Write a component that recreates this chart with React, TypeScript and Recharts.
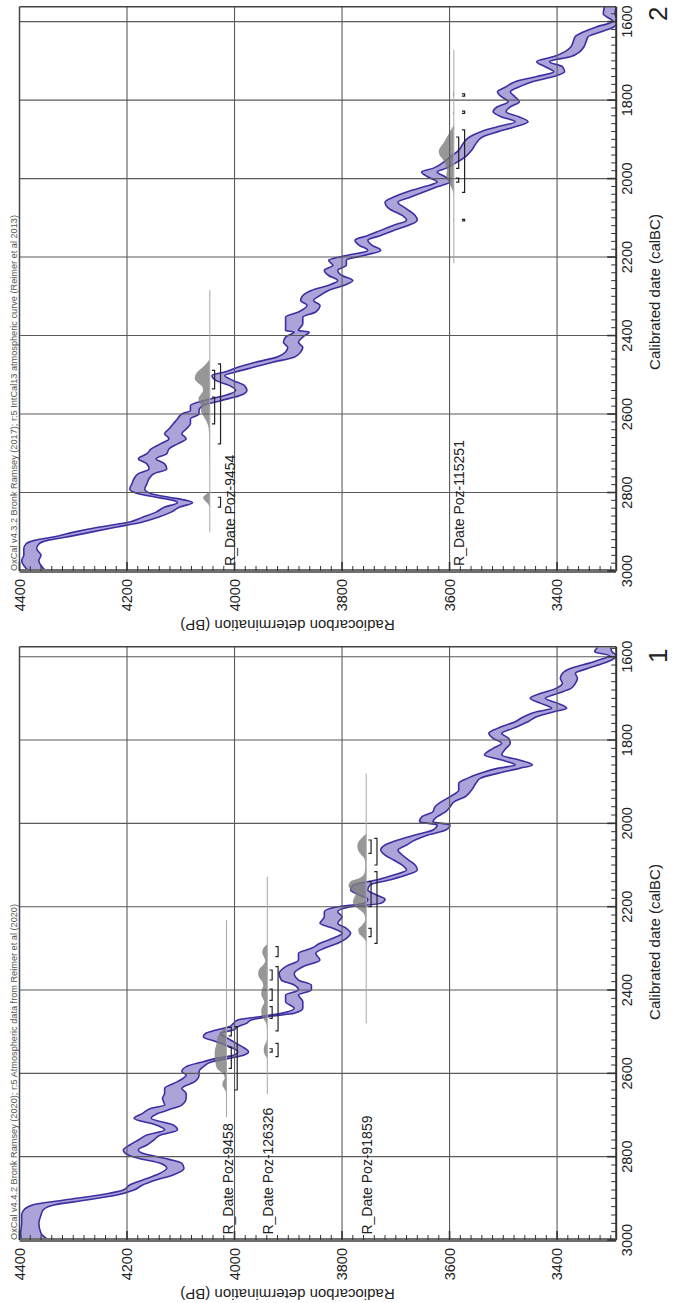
import React from 'react';
import {
  ComposedChart,
  Area,
  Line,
  Scatter,
  XAxis,
  YAxis,
  ReferenceLine,
} from 'recharts';

const FONT = '"Liberation Sans", Arial, Helvetica, sans-serif';

// axis values
const bpRange = [3290, 4400];
const bpMajor = [3400, 3600, 3800, 4000, 4200, 4400];
const calMajor = [1600, 1800, 2000, 2200, 2400, 2600, 2800, 3000];

// calibration curve panel 1 (IntCal20): [calBC, upper BP, lower BP]
const curve1: [number, number, number][] = [
  [1578, 3325, 3300], [1588, 3330, 3298], [1598, 3302, 3289], [1606, 3318, 3296],
  [1616, 3342, 3314], [1628, 3374, 3342], [1640, 3390, 3366], [1652, 3394, 3362],
  [1664, 3390, 3366], [1676, 3402, 3374], [1688, 3430, 3398], [1700, 3450, 3422],
  [1712, 3430, 3398], [1724, 3410, 3382], [1732, 3438, 3406], [1744, 3462, 3438],
  [1756, 3478, 3454], [1772, 3511, 3482], [1784, 3527, 3503], [1796, 3519, 3490],
  [1808, 3503, 3487], [1820, 3519, 3495], [1836, 3535, 3503], [1848, 3503, 3470],
  [1860, 3478, 3446], [1868, 3511, 3470], [1880, 3543, 3511], [1892, 3567, 3543],
  [1904, 3583, 3551], [1920, 3583, 3559], [1936, 3599, 3571], [1948, 3615, 3591],
  [1960, 3627, 3599], [1972, 3631, 3607], [1984, 3651, 3623], [1996, 3656, 3631],
  [2004, 3623, 3599], [2016, 3631, 3607], [2028, 3664, 3640], [2040, 3696, 3664],
  [2052, 3720, 3680], [2064, 3728, 3696], [2076, 3720, 3688], [2088, 3704, 3676],
  [2100, 3688, 3664], [2112, 3680, 3660], [2124, 3704, 3680], [2136, 3736, 3712],
  [2148, 3780, 3748], [2160, 3784, 3752], [2172, 3768, 3736], [2182, 3752, 3720],
  [2192, 3760, 3728], [2200, 3808, 3784], [2212, 3833, 3808], [2224, 3833, 3800],
  [2240, 3841, 3808], [2252, 3817, 3792], [2264, 3800, 3784], [2276, 3817, 3792],
  [2288, 3841, 3808], [2300, 3857, 3833], [2312, 3881, 3849], [2328, 3881, 3841],
  [2344, 3905, 3873], [2360, 3917, 3889], [2376, 3913, 3881], [2388, 3889, 3857],
  [2400, 3881, 3857], [2412, 3905, 3881], [2428, 3905, 3873], [2444, 3889, 3873],
  [2456, 3913, 3889], [2464, 3953, 3937], [2472, 3994, 3969], [2480, 4002, 3978],
  [2488, 4010, 3994], [2496, 4034, 4002], [2504, 4054, 4026], [2512, 4058, 4018],
  [2524, 4034, 4002], [2536, 4010, 3986], [2548, 3994, 3974], [2556, 4000, 3982],
  [2564, 4034, 4010], [2572, 4058, 4042], [2584, 4090, 4058], [2596, 4098, 4066],
  [2604, 4090, 4066], [2620, 4106, 4074], [2636, 4130, 4098], [2648, 4130, 4090],
  [2660, 4134, 4090], [2676, 4130, 4098], [2684, 4155, 4114], [2696, 4171, 4142],
  [2708, 4187, 4155], [2724, 4146, 4114], [2736, 4130, 4106], [2748, 4163, 4138],
  [2760, 4179, 4150], [2772, 4195, 4163], [2784, 4207, 4179], [2792, 4203, 4171],
  [2804, 4179, 4130], [2816, 4138, 4098], [2828, 4126, 4094], [2844, 4146, 4114],
  [2856, 4171, 4146], [2868, 4195, 4171], [2880, 4207, 4187], [2892, 4251, 4219],
  [2904, 4316, 4275], [2916, 4376, 4336], [2928, 4392, 4356], [2940, 4396, 4360],
  [2960, 4396, 4364], [2984, 4398, 4360], [3000, 4396, 4346],
];

// calibration curve panel 2 (IntCal13)
const curve2: [number, number, number][] = [
  [1562, 3312, 3290], [1580, 3314, 3292], [1600, 3296, 3287], [1613, 3326, 3294],
  [1626, 3350, 3318], [1638, 3366, 3342], [1651, 3370, 3346], [1664, 3374, 3350],
  [1677, 3386, 3358], [1689, 3406, 3374], [1702, 3438, 3414], [1715, 3422, 3390],
  [1728, 3406, 3386], [1740, 3438, 3406], [1753, 3478, 3446], [1766, 3495, 3470],
  [1779, 3511, 3487], [1792, 3503, 3478], [1804, 3491, 3470], [1817, 3511, 3487],
  [1830, 3519, 3495], [1843, 3503, 3470], [1855, 3478, 3454], [1868, 3511, 3478],
  [1881, 3543, 3511], [1894, 3563, 3539], [1911, 3575, 3551], [1928, 3583, 3559],
  [1945, 3599, 3571], [1962, 3615, 3591], [1974, 3631, 3607], [1983, 3652, 3623],
  [1996, 3640, 3607], [2009, 3623, 3599], [2021, 3648, 3623], [2034, 3680, 3648],
  [2047, 3704, 3672], [2060, 3720, 3696], [2077, 3712, 3680], [2094, 3688, 3664],
  [2106, 3680, 3660], [2119, 3704, 3676], [2132, 3728, 3704], [2145, 3752, 3728],
  [2157, 3776, 3752], [2170, 3768, 3744], [2183, 3752, 3728], [2196, 3792, 3760],
  [2208, 3825, 3792], [2221, 3817, 3792], [2234, 3833, 3808], [2247, 3825, 3800],
  [2260, 3808, 3780], [2272, 3825, 3796], [2285, 3857, 3825], [2298, 3873, 3841],
  [2311, 3877, 3853], [2323, 3865, 3841], [2340, 3881, 3849], [2353, 3905, 3873],
  [2370, 3905, 3873], [2387, 3905, 3881], [2391, 3889, 3861], [2404, 3905, 3873],
  [2417, 3909, 3881], [2430, 3901, 3873], [2442, 3905, 3877], [2455, 3921, 3889],
  [2468, 3961, 3929], [2481, 3994, 3965], [2493, 4018, 3998], [2502, 4042, 4018],
  [2515, 4034, 4002], [2527, 4010, 3982], [2540, 3998, 3977], [2553, 4018, 3990],
  [2566, 4058, 4026], [2578, 4082, 4058], [2591, 4082, 4066], [2600, 4098, 4066],
  [2612, 4106, 4082], [2625, 4114, 4082], [2638, 4122, 4090], [2650, 4130, 4098],
  [2663, 4122, 4090], [2676, 4138, 4106], [2689, 4155, 4122], [2701, 4163, 4126],
  [2714, 4179, 4146], [2727, 4163, 4130], [2740, 4159, 4126], [2752, 4179, 4150],
  [2765, 4187, 4159], [2778, 4191, 4163], [2791, 4195, 4167], [2803, 4179, 4155],
  [2812, 4146, 4122], [2820, 4114, 4090], [2826, 4106, 4078], [2837, 4130, 4102],
  [2850, 4146, 4118], [2863, 4171, 4142], [2875, 4195, 4171], [2888, 4251, 4219],
  [2901, 4299, 4267], [2914, 4340, 4315], [2922, 4372, 4348], [2931, 4388, 4364],
  [2943, 4392, 4368], [2960, 4392, 4360], [2973, 4396, 4364], [2986, 4392, 4360],
  [2998, 4384, 4352], [3000, 4382, 4350],
];

// calibrated distributions: [calBC, relative probability]
const dist9458: [number, number][] = [
  [2484, 0], [2492, 0.15], [2500, 0.45], [2510, 0.7], [2520, 0.8], [2530, 0.85], [2540, 0.95],
  [2550, 1], [2560, 1], [2570, 0.95], [2580, 0.9], [2590, 0.75], [2598, 0.4], [2605, 0.2],
  [2612, 0.15], [2620, 0.3], [2628, 0.35], [2636, 0.2], [2645, 0.05], [2655, 0],
];
const dist126326: [number, number][] = [
  [2290, 0], [2300, 0.4], [2310, 0.5], [2320, 0.35], [2330, 0.2], [2340, 0.4], [2350, 0.8],
  [2360, 0.9], [2370, 0.8], [2380, 0.5], [2390, 0.4], [2400, 0.55], [2410, 0.6], [2420, 0.45],
  [2430, 0.3], [2440, 0.5], [2450, 0.6], [2460, 0.55], [2470, 0.35], [2480, 0.1], [2492, 0.04],
  [2512, 0.02], [2525, 0.1], [2535, 0.3], [2545, 0.35], [2555, 0.25], [2565, 0.03], [2575, 0],
];
const dist91859: [number, number][] = [
  [2025, 0], [2035, 0.25], [2045, 0.45], [2055, 0.5], [2065, 0.45], [2075, 0.3], [2085, 0.1],
  [2100, 0.05], [2120, 0.1], [2132, 0.4], [2140, 0.9], [2150, 1], [2160, 0.85], [2170, 0.6],
  [2180, 0.7], [2190, 0.75], [2200, 0.6], [2210, 0.3], [2220, 0.1], [2232, 0.05], [2245, 0.25],
  [2255, 0.45], [2265, 0.4], [2275, 0.15], [2285, 0.02], [2295, 0],
];
const dist9454: [number, number][] = [
  [2460, 0], [2470, 0.2], [2480, 0.45], [2490, 0.75], [2500, 0.95], [2510, 1], [2520, 0.8],
  [2530, 0.5], [2540, 0.45], [2550, 0.6], [2560, 0.75], [2570, 0.7], [2580, 0.55], [2590, 0.6],
  [2600, 0.5], [2610, 0.35], [2620, 0.2], [2635, 0.08], [2660, 0.04], [2700, 0.02], [2740, 0],
  [2795, 0], [2803, 0.2], [2812, 0.45], [2820, 0.35], [2830, 0.1], [2840, 0],
];
const dist115251: [number, number][] = [
  [1775, 0], [1785, 0.07], [1795, 0], [1825, 0], [1832, 0.07], [1840, 0], [1860, 0],
  [1870, 0.1], [1880, 0.25], [1890, 0.4], [1900, 0.55], [1910, 0.7], [1920, 0.9], [1930, 1],
  [1940, 0.95], [1950, 0.75], [1960, 0.6], [1970, 0.5], [1980, 0.45], [1990, 0.5], [2000, 0.45],
  [2010, 0.35], [2020, 0.2], [2030, 0.08], [2040, 0.02], [2050, 0], [2095, 0], [2104, 0.04], [2112, 0],
];

type RDate = {
  name: string;
  bp: number;
  labelBP: number;
  span: [number, number];
  peak: number;
  dist: [number, number][];
  r68: [number, number][];
  r95: [number, number][];
};

const dates1: RDate[] = [
  {
    name: 'R_Date Poz-9458', bp: 4015, labelBP: 4013, span: [2232, 2705], peak: 22, dist: dist9458,
    r68: [[2490, 2510], [2537, 2588]], r95: [[2488, 2640]],
  },
  {
    name: 'R_Date Poz-126326', bp: 3939, labelBP: 3938, span: [2128, 2650], peak: 19, dist: dist126326,
    r68: [[2352, 2376], [2398, 2425], [2440, 2468], [2541, 2549]],
    r95: [[2296, 2320], [2344, 2498], [2528, 2560]],
  },
  {
    name: 'R_Date Poz-91859', bp: 3755, labelBP: 3753, span: [1880, 2480], peak: 33, dist: dist91859,
    r68: [[2040, 2072], [2140, 2200], [2252, 2272]], r95: [[2036, 2100], [2116, 2288]],
  },
];

const dates2: RDate[] = [
  {
    name: 'R_Date Poz-9454', bp: 4046, labelBP: 4009, span: [2284, 2901], peak: 28, dist: dist9454,
    r68: [[2489, 2536], [2557, 2625]], r95: [[2472, 2676], [2812, 2837]],
  },
  {
    name: 'R_Date Poz-115251', bp: 3592, labelBP: 3583, span: [1672, 2216], peak: 28, dist: dist115251,
    r68: [[1894, 1974], [1999, 2009]],
    r95: [[1784, 1790], [1828, 1834], [1876, 2035], [2104, 2108]],
  },
];

const steps = (a: number, b: number, s: number) => {
  const out: number[] = [];
  for (let v = Math.ceil(a / s) * s; v <= b; v += s) out.push(v);
  return out;
};

const XTick = (props: any) => {
  const { x, y, payload } = props;
  const major = payload.value % 200 === 0;
  return (
    <g>
      <line x1={x} x2={x} y1={y} y2={y - (major ? 9 : 5)} stroke="#333" strokeWidth={major ? 1.6 : 1} />
      {major && (
        <text x={x} y={y + 16} textAnchor="middle" fontSize={14.5} fill="#222" fontFamily={FONT}>
          {payload.value}
        </text>
      )}
    </g>
  );
};

const YTick = (props: any) => {
  const { x, y, payload } = props;
  const major = payload.value % 200 === 0;
  return (
    <g>
      <line x1={x} x2={x + (major ? 9 : 5)} y1={y} y2={y} stroke="#333" strokeWidth={major ? 1.6 : 1} />
      {major && (
        <text x={x - 8} y={y} dy="0.36em" textAnchor="end" fontSize={14.5} fill="#222" fontFamily={FONT}>
          {payload.value}
        </text>
      )}
    </g>
  );
};

function bracketPoints(ranges: [number, number][], level: number) {
  const pts: { x: number; y: number | null }[] = [];
  ranges.forEach(([a, b]) => {
    pts.push({ x: a, y: level + 5 }, { x: a, y: level }, { x: b, y: level }, { x: b, y: level + 5 }, { x: b, y: null });
  });
  return pts;
}

function Panel({ curve, dates, xMin, width, axisWidth, rightPad }: {
  curve: [number, number, number][];
  dates: RDate[];
  xMin: number;
  width: number;
  axisWidth: number;
  rightPad: number;
}) {
  const band = curve.map(([x, hi, lo]) => ({ x, v: [lo, hi] }));
  const labels = dates.map((d) => ({ x: 2987, y: d.labelBP, name: d.name }));
  return (
    <ComposedChart width={width} height={675} margin={{ top: 19.5, right: rightPad, bottom: 0, left: 0 }}>
      <XAxis
        type="number"
        dataKey="x"
        domain={[xMin, 3000]}
        reversed
        allowDataOverflow
        ticks={steps(xMin, 3000, 20)}
        interval={0}
        tickSize={0}
        tickMargin={0}
        tickLine={false}
        height={58.8}
        axisLine={{ stroke: '#333', strokeWidth: 2 }}
        tick={<XTick />}
      />
      <YAxis
        type="number"
        domain={bpRange}
        allowDataOverflow
        ticks={steps(bpRange[0], bpRange[1], 20)}
        interval={0}
        tickSize={0}
        tickMargin={0}
        tickLine={false}
        width={axisWidth}
        axisLine={{ stroke: '#6e6e6e', strokeWidth: 4 }}
        tick={<YTick />}
      />
      <Area
        data={band}
        dataKey="v"
        type="monotone"
        fill="#aca4d8"
        fillOpacity={1}
        stroke="#3b2fa3"
        strokeWidth={1.6}
        isAnimationActive={false}
      />
      {dates.map((d) => (
        <Area
          key={d.name + 'dist'}
          data={d.dist.map(([x, p]) => ({ x, v: [d.bp, d.bp + p * d.peak] }))}
          dataKey="v"
          type="monotone"
          fill="#7d7d7d"
          fillOpacity={0.8}
          stroke="none"
          isAnimationActive={false}
        />
      ))}
      {calMajor.filter((v) => v < 3000).map((v) => (
        <ReferenceLine key={'gx' + v} x={v} stroke="#5a5a5a" strokeWidth={1.1} />
      ))}
      {bpMajor.filter((v) => v < 4400).map((v) => (
        <ReferenceLine key={'gy' + v} y={v} stroke="#5a5a5a" strokeWidth={1.1} />
      ))}
      <ReferenceLine y={bpRange[1]} stroke="#444" strokeWidth={1.5} />
      <ReferenceLine x={xMin} stroke="#444" strokeWidth={1.5} />
      {dates.map((d) => (
        <ReferenceLine
          key={d.name + 'span'}
          segment={[{ x: d.span[0], y: d.bp }, { x: d.span[1], y: d.bp }]}
          stroke="#a8a8a8"
          strokeWidth={1}
        />
      ))}
      {dates.map((d) => (
        <Line
          key={d.name + 'r68'}
          data={bracketPoints(d.r68, d.bp - 9)}
          dataKey="y"
          type="linear"
          stroke="#222"
          strokeWidth={1.2}
          dot={false}
          connectNulls={false}
          isAnimationActive={false}
        />
      ))}
      {dates.map((d) => (
        <Line
          key={d.name + 'r95'}
          data={bracketPoints(d.r95, d.bp - 20)}
          dataKey="y"
          type="linear"
          stroke="#222"
          strokeWidth={1.2}
          dot={false}
          connectNulls={false}
          isAnimationActive={false}
        />
      ))}
      <Scatter
        data={labels}
        dataKey="y"
        isAnimationActive={false}
        shape={(p: any) => (
          <text x={p.cx} y={p.cy} dy="0.36em" fontSize={14} fill="#222" fontFamily={FONT}>
            {p.payload.name}
          </text>
        )}
      />
    </ComposedChart>
  );
}

export default function App() {
  const t = { fontFamily: FONT, fill: '#222' };
  return (
    <div style={{ position: 'fixed', left: 0, top: 0, width: 675, height: 1303, overflow: 'hidden', background: '#fff' }}>
      <div
        style={{
          position: 'absolute',
          left: 0,
          top: 0,
          width: 1303,
          height: 675,
          transformOrigin: '0 0',
          transform: 'translateY(1303px) rotate(-90deg)',
        }}
      >
        <div style={{ position: 'absolute', left: 0, top: 0 }}>
          <Panel curve={curve1} dates={dates1} xMin={1576} width={664} axisWidth={63} rightPad={7.7} />
        </div>
        <div style={{ position: 'absolute', left: 665, top: 0 }}>
          <Panel curve={curve2} dates={dates2} xMin={1562} width={638} axisWidth={67} rightPad={6.7} />
        </div>
        <svg width={1303} height={675} style={{ position: 'absolute', left: 0, top: 0, pointerEvents: 'none' }}>
          <text x={63} y={16.5} fontSize={8.8} fill="#555" fontFamily={FONT} textLength={336} lengthAdjust="spacingAndGlyphs">
            OxCal v4.4.2 Bronk Ramsey (2020); r:5 Atmospheric data from Reimer et al (2020)
          </text>
          <text x={732} y={16.5} fontSize={8.8} fill="#555" fontFamily={FONT} textLength={356} lengthAdjust="spacingAndGlyphs">
            OxCal v4.3.2 Bronk Ramsey (2017); r:5 IntCal13 atmospheric curve (Reimer et al 2013)
          </text>
          <text transform="translate(14, 287.5) rotate(-90)" textAnchor="middle" fontSize={15} {...t}>
            Radiocarbon determination (BP)
          </text>
          <text transform="translate(683, 287.5) rotate(-90)" textAnchor="middle" fontSize={15} {...t}>
            Radiocarbon determination (BP)
          </text>
          <text x={361} y={660} textAnchor="middle" fontSize={15} {...t}>
            Calibrated date (calBC)
          </text>
          <text x={1011} y={660} textAnchor="middle" fontSize={15} {...t}>
            Calibrated date (calBC)
          </text>
          <text x={640} y={667} fontSize={26} {...t}>1</text>
          <text x={1282} y={667} fontSize={26} {...t}>2</text>
        </svg>
      </div>
    </div>
  );
}
